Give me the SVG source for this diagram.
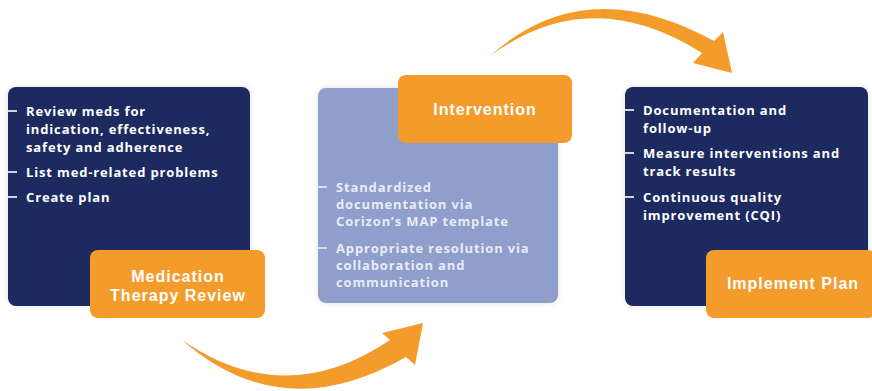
<svg xmlns="http://www.w3.org/2000/svg" width="872" height="391" viewBox="0 0 872 391">
<defs>
<filter id="sh" x="-10%" y="-10%" width="120%" height="120%">
<feGaussianBlur in="SourceAlpha" stdDeviation="3"/>
<feComponentTransfer><feFuncA type="linear" slope="0.12"/></feComponentTransfer>
<feMerge><feMergeNode/><feMergeNode in="SourceGraphic"/></feMerge>
</filter>
</defs>
<style>
.navy{fill:#1b2a5e}
.lilac{fill:#8f9ecb}
.orange{fill:#f39c2c}
.b{font-family:"Open Sans","Liberation Sans",sans-serif;font-weight:700;font-size:13px;letter-spacing:0.85px;fill:#ffffff}
.bm{font-family:"Open Sans","Liberation Sans",sans-serif;font-weight:700;font-size:13px;letter-spacing:0.85px;fill:#e9ecf6}
.t{font-family:"Liberation Sans",Arial,sans-serif;font-weight:700;font-size:16px;letter-spacing:1px;fill:#ffffff;text-anchor:middle}
.d{stroke:#ffffff;stroke-width:1.6}
.dm{stroke:#e9ecf6;stroke-width:1.6}
</style>
<rect width="872" height="391" fill="#ffffff"/>

<g id="connectors">
<path class="orange" d="M490,56 Q585,-30 714,41 L723,32 L732,73 L693,63 L702,53 Q590,-18 490,56 Z"/>
<path class="orange" d="M182,340 Q282,428 406,357 L415,365 L423,323 L382,333 L390,340 Q285,411 182,340 Z"/>
</g>

<g id="node-review">
<rect class="navy" x="8" y="87" width="242" height="219" rx="8" filter="url(#sh)"/>
<line class="d" x1="8" y1="111" x2="17" y2="111"/>
<line class="d" x1="8" y1="172" x2="17" y2="172"/>
<line class="d" x1="8" y1="197" x2="17" y2="197"/>
<text class="b" x="26" y="116">Review meds for</text>
<text class="b" x="26" y="134">indication, effectiveness,</text>
<text class="b" x="26" y="152">safety and adherence</text>
<text class="b" x="26" y="177">List med-related problems</text>
<text class="b" x="26" y="202">Create plan</text>
<rect class="orange" x="90" y="250" width="175" height="68" rx="8"/>
<text class="t" x="178" y="282">Medication</text>
<text class="t" x="178" y="301">Therapy Review</text>
</g>

<g id="node-intervention">
<rect class="lilac" x="318" y="88" width="240" height="215" rx="8" filter="url(#sh)"/>
<line class="dm" x1="318" y1="187" x2="327" y2="187"/>
<line class="dm" x1="318" y1="248" x2="327" y2="248"/>
<text class="bm" x="336" y="192">Standardized</text>
<text class="bm" x="336" y="209">documentation via</text>
<text class="bm" x="336" y="226">Corizon’s MAP template</text>
<text class="bm" x="336" y="253">Appropriate resolution via</text>
<text class="bm" x="336" y="270">collaboration and</text>
<text class="bm" x="336" y="287">communication</text>
<rect class="orange" x="398" y="75" width="174" height="68" rx="8"/>
<text class="t" x="485" y="115">Intervention</text>
</g>

<g id="node-implement">
<rect class="navy" x="625" y="87" width="243" height="219" rx="8" filter="url(#sh)"/>
<line class="d" x1="625" y1="110" x2="634" y2="110"/>
<line class="d" x1="625" y1="153" x2="634" y2="153"/>
<line class="d" x1="625" y1="197" x2="634" y2="197"/>
<text class="b" x="643" y="115">Documentation and</text>
<text class="b" x="643" y="133">follow-up</text>
<text class="b" x="643" y="158">Measure interventions and</text>
<text class="b" x="643" y="176">track results</text>
<text class="b" x="643" y="202">Continuous quality</text>
<text class="b" x="643" y="220">improvement (CQI)</text>
<rect class="orange" x="706" y="250" width="170" height="68" rx="8"/>
<text class="t" x="793" y="289">Implement Plan</text>
</g>
</svg>
